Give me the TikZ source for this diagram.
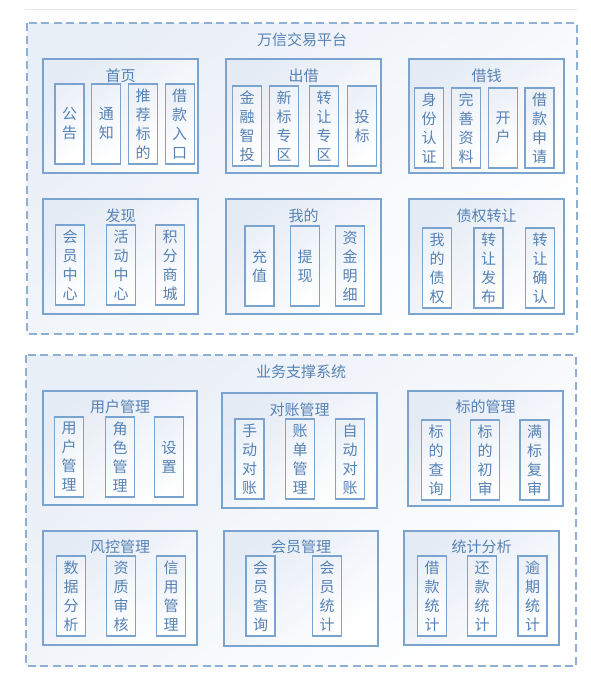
\documentclass[tikz,border=0pt]{standalone}
\usepackage{fontspec}
\newfontfamily\cjk{Noto Sans CJK SC}
\definecolor{cline}{HTML}{7BA3CF}
\definecolor{cdash}{HTML}{8EB0D5}
\definecolor{ctext}{HTML}{5682B5}
\definecolor{cfill}{HTML}{E4EBF5}
\begin{document}
\begin{tikzpicture}[
    x=1pt, y=-1pt,
    platform/.style={draw=cdash, line width=1.3pt, dash pattern=on 8pt off 4.5pt, top color=cfill!80, bottom color=white, shading angle=40},
    ptitle/.style={font=\cjk\fontsize{15}{18}\selectfont, text=ctext},
    group/.style={rectangle, draw=cline, line width=1.3pt, inner sep=0pt, top color=cfill, bottom color=white, shading angle=40},
    gtitle/.style={font=\cjk\fontsize{15}{18}\selectfont, text=ctext, inner sep=0pt},
    item/.style={rectangle, draw=cline, line width=1.3pt, minimum width=29pt, minimum height=80pt, inner sep=0pt, align=center, font=\cjk\fontsize{15}{19}\selectfont, text=ctext, top color=cfill!70, bottom color=white, shading angle=40}
]
    \useasboundingbox (0,0) rectangle (590,681);
    \draw[black!10, line width=0.6pt] (25,9) -- (577,9);

    % 万信交易平台
    \draw[platform] (27,23) rectangle (577,334);
    \node (platform) at (302,40) [ptitle] {万信交易平台};

    \node (home) at (120.5,116) [group, minimum width=155pt, minimum height=114pt] {};
    \node (homet) at (120.5,76) [gtitle] {首页};
    \node (home1) at (69.5,124) [item] {公\\告};
    \node (home2) at (106.3,124) [item] {通\\知};
    \node (home3) at (143,124) [item] {推\\荐\\标\\的};
    \node (home4) at (179.7,124) [item] {借\\款\\入\\口};

    \node (lend) at (303.5,116) [group, minimum width=155pt, minimum height=114pt] {};
    \node (lendt) at (303.5,76) [gtitle] {出借};
    \node (lend1) at (247,126) [item] {金\\融\\智\\投};
    \node (lend2) at (284,126) [item] {新\\标\\专\\区};
    \node (lend3) at (324,126) [item] {转\\让\\专\\区};
    \node (lend4) at (362,126) [item] {投\\标};

    \node (borrow) at (486.5,116) [group, minimum width=155pt, minimum height=114pt] {};
    \node (borrowt) at (486.5,76) [gtitle] {借钱};
    \node (borrow1) at (429,128) [item] {身\\份\\认\\证};
    \node (borrow2) at (466,128) [item] {完\\善\\资\\料};
    \node (borrow3) at (503,128) [item] {开\\户};
    \node (borrow4) at (539.5,128) [item] {借\\款\\申\\请};

    \node (discover) at (120.5,256.5) [group, minimum width=155pt, minimum height=115pt] {};
    \node (discovert) at (120.5,216) [gtitle] {发现};
    \node (discover1) at (70,265) [item] {会\\员\\中\\心};
    \node (discover2) at (121,265) [item] {活\\动\\中\\心};
    \node (discover3) at (170,265) [item] {积\\分\\商\\城};

    \node (mine) at (303.5,256.5) [group, minimum width=155pt, minimum height=115pt] {};
    \node (minet) at (303.5,216) [gtitle] {我的};
    \node (mine1) at (259.5,266) [item] {充\\值};
    \node (mine2) at (305,266) [item] {提\\现};
    \node (mine3) at (350,266) [item] {资\\金\\明\\细};

    \node (transfer) at (486.5,256.5) [group, minimum width=155pt, minimum height=115pt] {};
    \node (transfert) at (486.5,216) [gtitle] {债权转让};
    \node (transfer1) at (437,268) [item] {我\\的\\债\\权};
    \node (transfer2) at (488.5,268) [item] {转\\让\\发\\布};
    \node (transfer3) at (540,268) [item] {转\\让\\确\\认};

    % 业务支撑系统
    \draw[platform] (26,355) rectangle (576,666);
    \node (support) at (301,372) [ptitle] {业务支撑系统};

    \node (usermgr) at (120,448) [group, minimum width=154pt, minimum height=114pt] {};
    \node (usermgrt) at (120,407) [gtitle] {用户管理};
    \node (usermgr1) at (69,457) [item] {用\\户\\管\\理};
    \node (usermgr2) at (120,457) [item] {角\\色\\管\\理};
    \node (usermgr3) at (169,457) [item] {设\\置};

    \node (recon) at (299.5,450.5) [group, minimum width=155pt, minimum height=115pt] {};
    \node (recont) at (299.5,410) [gtitle] {对账管理};
    \node (recon1) at (249.5,459) [item] {手\\动\\对\\账};
    \node (recon2) at (300,459) [item] {账\\单\\管\\理};
    \node (recon3) at (350,459) [item] {自\\动\\对\\账};

    \node (bidmgr) at (485.5,448.5) [group, minimum width=155pt, minimum height=115pt] {};
    \node (bidmgrt) at (485.5,407) [gtitle] {标的管理};
    \node (bidmgr1) at (436,460) [item] {标\\的\\查\\询};
    \node (bidmgr2) at (485,460) [item] {标\\的\\初\\审};
    \node (bidmgr3) at (534.5,460) [item] {满\\标\\复\\审};

    \node (riskmgr) at (120,588) [group, minimum width=154pt, minimum height=114pt] {};
    \node (riskmgrt) at (120,547) [gtitle] {风控管理};
    \node (riskmgr1) at (71,596) [item] {数\\据\\分\\析};
    \node (riskmgr2) at (121,596) [item] {资\\质\\审\\核};
    \node (riskmgr3) at (171,596) [item] {信\\用\\管\\理};

    \node (membermgr) at (301,588.5) [group, minimum width=154pt, minimum height=115pt] {};
    \node (membermgrt) at (301,547) [gtitle] {会员管理};
    \node (membermgr1) at (260.5,596) [item] {会\\员\\查\\询};
    \node (membermgr2) at (327,596) [item] {会\\员\\统\\计};

    \node (stats) at (481.5,588) [group, minimum width=155pt, minimum height=114pt] {};
    \node (statst) at (481.5,547) [gtitle] {统计分析};
    \node (stats1) at (432,596) [item] {借\\款\\统\\计};
    \node (stats2) at (482,596) [item] {还\\款\\统\\计};
    \node (stats3) at (532.5,596) [item] {逾\\期\\统\\计};

\end{tikzpicture}
\end{document}
